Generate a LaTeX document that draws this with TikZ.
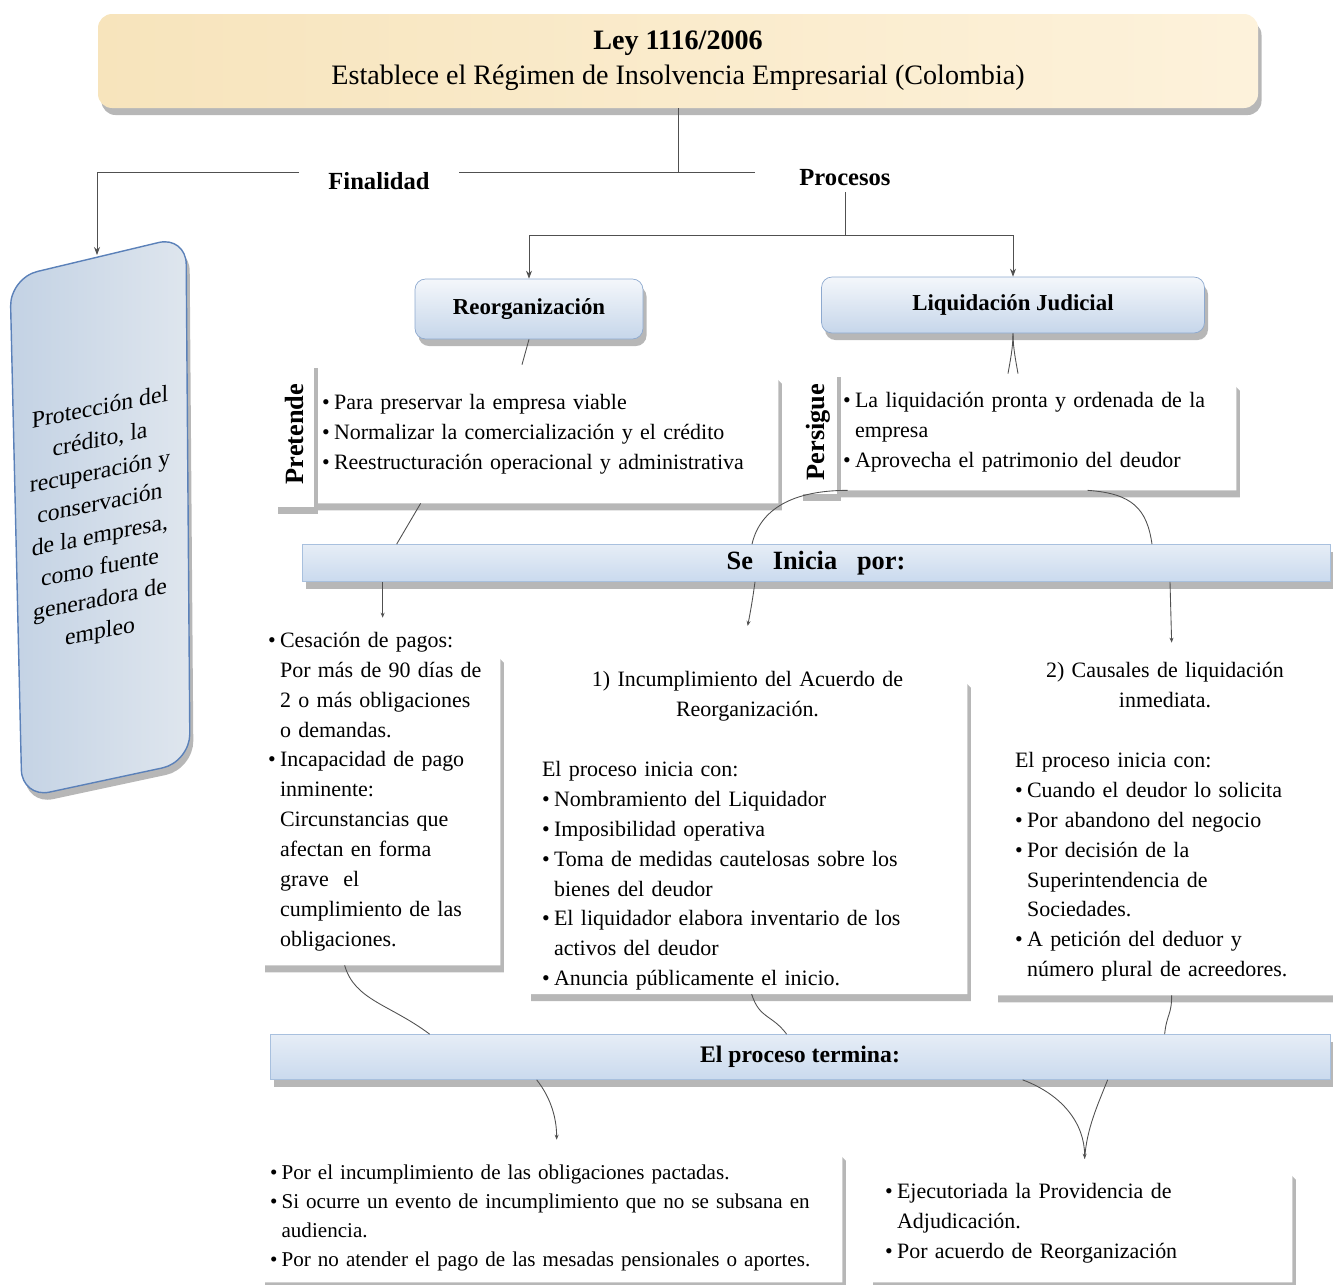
\documentclass[tikz,border=0pt]{standalone}
\usepackage{fontspec}
\setmainfont{Liberation Serif}
\usepackage{graphicx}
\usetikzlibrary{arrows.meta, positioning, shadows, calc, backgrounds}
\definecolor{leytan}{HTML}{F7E4BC}
\definecolor{leylight}{HTML}{FDF2DB}
\definecolor{procline}{HTML}{8DA9CF}
\definecolor{proctop}{HTML}{F4F7FB}
\definecolor{procbot}{HTML}{C6D6EA}
\definecolor{barline}{HTML}{A8C0DE}
\definecolor{bartop}{HTML}{E6EDF6}
\definecolor{barbot}{HTML}{CADAEE}
\definecolor{finline}{HTML}{5B81B9}
\definecolor{finleft}{HTML}{C3D2E4}
\definecolor{finright}{HTML}{DFE6EE}
\definecolor{linkgray}{HTML}{505050}
\newcommand{\itemdot}{\makebox[0.55em][l]{\textbullet}}
\newcommand{\itemgap}{\hspace*{0.55em}}
\newcommand{\pxu}{0.02cm}
% fondo blanco con la esquina superior derecha recortada
% [extra arriba]{nodo}{recorte}
\newcommand{\snipbox}[3][0]{%
  \begin{scope}[on background layer]
    \fill[white, softshadow] (#2.south west) -- ($(#2.north west)+(0,-#1)$) -- ($(#2.north east)+(-#3,-#1)$)
      -- ($(#2.north east)+(0,#3-#1)$) -- (#2.south east) -- cycle;
  \end{scope}}

\begin{document}
\begin{tikzpicture}[x=0.02cm, y=-0.02cm,
  softshadow/.style={drop shadow={shadow xshift=2pt, shadow yshift=-4pt, opacity=0.4, fill=black!70}},
  link/.style={draw=linkgray, line width=0.5pt},
  arrow/.style={link, -{Stealth[length=1.6mm, width=1.2mm]}},
  tick/.style={link, -{Stealth[length=1mm, width=0.8mm]}},
  titlebox/.style={rectangle, rounded corners=8pt, left color=leytan, right color=leylight, align=center, font=\fontsize{16}{20}\selectfont, softshadow},
  procbox/.style={rectangle, rounded corners=6pt, draw=procline, top color=proctop, bottom color=procbot, font=\fontsize{13}{15}\selectfont\bfseries, softshadow},
  bar/.style={rectangle, draw=barline, top color=bartop, bottom color=barbot, font=\fontsize{15}{17}\selectfont\bfseries, softshadow},
  note/.style={rectangle, align=left, font=\fontsize{12.5}{17}\selectfont, inner ysep=2pt},
  tab/.style={rectangle, fill=white, inner sep=0pt, font=\fontsize{15}{17}\selectfont\bfseries, softshadow},
  lbl/.style={font=\fontsize{14}{16}\selectfont\bfseries}
]
\useasboundingbox (0,0) rectangle (1333,1285);

% cabecera
\node[titlebox, minimum width=1160*\pxu, minimum height=94*\pxu] (ley) at (678,61)
  {\textbf{Ley 1116/2006}\\Establece el Régimen de Insolvencia Empresarial (Colombia)};

\node[lbl, inner xsep=29*\pxu] (finalidad) at (379,181) {Finalidad};
\node[lbl] (procesos) at (845,178) {Procesos};

% finalidad
\path[draw=finline, line width=0.8pt, left color=finleft, right color=finright, rounded corners=16pt, softshadow]
  (10,278) -- (186,236) -- (190,762) -- (22,798) -- cycle;
\node[font=\fontsize{13.5}{18.2}\selectfont, align=center, yslant=0.2, transform shape] (fintext) at (100,521)
  {Protección del\\crédito, la\\recuperación y\\conservación\\de la empresa,\\como fuente\\generadora de\\empleo};
\coordinate (fintop) at (97,255);

% procesos
\node[procbox, minimum width=228*\pxu, minimum height=60*\pxu] (reorg) at (529,309) {Reorganización};
\node[procbox, minimum width=383*\pxu, minimum height=56*\pxu] (liq) at (1013,305) {Liquidación Judicial};

\node[note, text width=449*\pxu, inner xsep=7*\pxu, minimum height=138*\pxu] (pret) at (546.5,434)
  {\itemdot Para preservar la empresa viable\\
   \itemdot Normalizar la comercialización y el crédito\\
   \itemdot Reestructuración operacional y administrativa};
\snipbox{pret}{12}
\node[tab, left=0pt of pret, minimum width=40*\pxu, minimum height=146*\pxu] (pretlbl) {\rotatebox{90}{Pretende}};

\node[note, text width=388*\pxu, inner xsep=5*\pxu, minimum height=116*\pxu] (pers) at (1037,432)
  {\itemdot La liquidación pronta y ordenada de la\\
   \itemgap empresa\\
   \itemdot Aprovecha el patrimonio del deudor};
\snipbox{pers}{10}
\node[tab, left=0pt of pers, minimum width=38*\pxu, minimum height=124*\pxu] (perslbl) {\rotatebox{90}{Persigue}};

% se inicia
\node[bar, minimum width=1028*\pxu, minimum height=37*\pxu] (seini) at (816,563) {Se\ \ \ Inicia\ \ \ por:};

\node[note, text width=226*\pxu, inner xsep=6*\pxu, minimum height=347*\pxu] (cesa) at (381,791.5)
  {\itemdot Cesación de pagos:\\
   \itemgap Por más de 90 días de\\
   \itemgap 2 o más obligaciones\\
   \itemgap o demandas.\\
   \itemdot Incapacidad de pago\\
   \itemgap inminente:\\
   \itemgap Circunstancias que\\
   \itemgap afectan en forma\\
   \itemgap grave\ \ el\\
   \itemgap cumplimiento de las\\
   \itemgap obligaciones.};
\snipbox{cesa}{38}

\node[note, text width=411*\pxu, inner xsep=14*\pxu, minimum height=318*\pxu] (incum) at (747.5,831)
  {{\centering 1) Incumplimiento del Acuerdo de\\ Reorganización.\par}
   \vspace{17pt}
   El proceso inicia con:\\
   \itemdot Nombramiento del Liquidador\\
   \itemdot Imposibilidad operativa\\
   \itemdot Toma de medidas cautelosas sobre los\\
   \itemgap bienes del deudor\\
   \itemdot El liquidador elabora inventario de los\\
   \itemgap activos del deudor\\
   \itemdot Anuncia públicamente el inicio.};
\snipbox[42]{incum}{55}

\node[note, text width=300*\pxu, inner xsep=20*\pxu, minimum height=346*\pxu] (causa) at (1165,822)
  {{\centering 2) Causales de liquidación\\ inmediata.\par}
   \vspace{17pt}
   El proceso inicia con:\\
   \itemdot Cuando el deudor lo solicita\\
   \itemdot Por abandono del negocio\\
   \itemdot Por decisión de la\\
   \itemgap Superintendencia de\\
   \itemgap Sociedades.\\
   \itemdot A petición del deduor y\\
   \itemgap número plural de acreedores.};
\snipbox[6]{causa}{55}

% termina
\node[bar, minimum width=1060*\pxu, minimum height=45*\pxu, font=\fontsize{13.5}{15}\selectfont\bfseries] (term) at (800,1057) {El proceso termina:};

\node[note, text width=564*\pxu, inner xsep=8*\pxu, minimum height=128*\pxu, font=\fontsize{12}{16.5}\selectfont] (termizq) at (552,1218)
  {\itemdot Por el incumplimiento de las obligaciones pactadas.\\
   \itemdot Si ocurre un evento de incumplimiento que no se subsana en\\
   \itemgap audiencia.\\
   \itemdot Por no atender el pago de las mesadas pensionales o aportes.};
\snipbox[14]{termizq}{14}

\node[note, text width=392*\pxu, inner xsep=15*\pxu, minimum height=117*\pxu] (termder) at (1081,1223.5)
  {\itemdot Ejecutoriada la Providencia de\\
   \itemgap Adjudicación.\\
   \itemdot Por acuerdo de Reorganización};
\snipbox[6]{termder}{14}

% conectores
\coordinate (split) at (678,172);
\coordinate (procstub) at (755,172);
\coordinate (hsplit) at (845,235);

\draw[link] (ley.south) -- (split) -- (procstub);
\draw[link] (split) -- (finalidad.east |- split);
\draw[arrow] (finalidad.west |- split) -| (fintop);
\draw[link] (procesos.south) -- (hsplit);
\draw[link] (reorg.north |- hsplit) -- (liq.north |- hsplit);
\draw[arrow] (reorg.north |- hsplit) -- (reorg.north);
\draw[arrow] (liq.north |- hsplit) -- (liq.north);

\draw[link] (reorg.south) -- ($(reorg.south |- pret.north)+(-7,0)$);
\draw[link] (liq.south) .. controls +(0,15) and +(2,-12) .. ($(liq.south |- pers.north)+(-5,0)$);
\draw[link] (liq.south) .. controls +(0,15) and +(-2,-12) .. ($(liq.south |- pers.north)+(5,0)$);

\draw[link] ($(pret.south west)+(106,0)$) -- ($(seini.north west)+(95,0)$);
\draw[link] ($(pers.south west)+(10,0)$) .. controls +(-55,0) and +(8,-35) .. ($(seini.north)+(-64,0)$);
\draw[link] ($(pers.south west)+(250,0)$) .. controls +(45,3) and +(-5,-35) .. ($(seini.north)+(336,0)$);

\draw[tick] ($(seini.south west)+(81,0)$) -- ($(cesa.north west)+(121,0)$);
\draw[tick] ($(seini.south)+(-61,0)$) .. controls +(-2,15) and +(3,-15) .. ($(incum.north west)+(220,-42)$);
\draw[tick] ($(seini.south)+(354,0)$) -- ($(causa.north west)+(177,-6)$);

\draw[link] ($(cesa.south west)+(83,0)$) .. controls +(10,35) and +(-40,-30) .. ($(term.north west)+(160,0)$);
\draw[link] ($(incum.south west)+(224,0)$) .. controls +(8,25) and +(-15,-20) .. ($(term.north west)+(517,0)$);
\draw[link] ($(causa.south west)+(177,0)$) .. controls +(0,20) and +(2,-20) .. ($(term.north west)+(895,0)$);

\draw[tick] ($(term.south west)+(267,0)$) .. controls +(12,15) and +(0,-25) .. ($(termizq.north west)+(295,-14)$);
\draw[tick] ($(term.south west)+(753,0)$) .. controls +(40,15) and +(0,-35) .. ($(termder.north west)+(215,-6)$);
\draw[link] ($(term.south west)+(838,0)$) .. controls +(-10,25) and +(2,-30) .. ($(termder.north west)+(215,-6)$);
\end{tikzpicture}
\end{document}
